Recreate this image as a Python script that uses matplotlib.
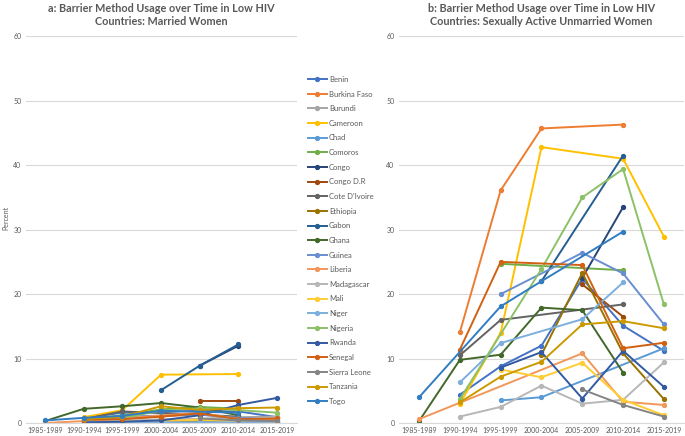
import numpy as np
import matplotlib.pyplot as plt

nan = np.nan

periods = ['1985-1989', '1990-1994', '1995-1999', '2000-2004', '2005-2009', '2010-2014', '2015-2019']

countries = ['Benin', 'Burkina Faso', 'Burundi', 'Cameroon', 'Chad', 'Comoros', 'Congo',
             'Congo D.R', "Cote D'Ivoire", 'Ethiopia', 'Gabon', 'Ghana', 'Guinea', 'Liberia',
             'Madagascar', 'Mali', 'Niger', 'Nigeria', 'Rwanda', 'Senegal', 'Sierra Leone',
             'Tanzania', 'Togo']

colors = ['#4472C4', '#ED7D31', '#A5A5A5', '#FFC000', '#5B9BD5', '#70AD47', '#264478',
          '#9E480E', '#636363', '#997300', '#255E91', '#43682B', '#698ED0', '#F1975A',
          '#B7B7B7', '#FFCD33', '#7CAFDD', '#8CC168', '#335AA1', '#D26012', '#848484',
          '#CC9A00', '#327DC2']

# married women (panel a)
married = {
    'Benin':         [nan, 0.8, 1.6, 1.7, 1.9, 1.8, 0.9],
    'Burkina Faso':  [nan, 0.4, 0.6, 1.0, 1.4, 0.7, nan],
    'Burundi':       [nan, 0.2, 0.3, 0.4, nan, 0.9, 1.0],
    'Cameroon':      [nan, 0.9, 2.0, 7.5, nan, 7.6, nan],
    'Chad':          [nan, nan, 0.1, 0.2, nan, 0.2, 0.2],
    'Comoros':       [nan, 0.5, 1.2, 2.1, 2.5, 2.2, nan],
    'Congo':         [nan, nan, nan, nan, 8.9, 12.0, nan],
    'Congo D.R':     [nan, nan, nan, nan, 3.4, 3.4, nan],
    "Cote D'Ivoire": [nan, 0.6, 1.8, nan, nan, 1.0, nan],
    'Ethiopia':      [nan, nan, nan, 0.1, 0.4, 0.3, 0.2],
    'Gabon':         [nan, nan, nan, 5.1, 8.9, 12.2, nan],
    'Ghana':         [0.3, 2.2, 2.6, 3.1, 2.4, 1.2, nan],
    'Guinea':        [nan, nan, 1.0, nan, 1.3, 0.8, 0.5],
    'Liberia':       [0.0, 0.3, nan, nan, 1.6, 0.6, 0.6],
    'Madagascar':    [nan, 0.1, 0.3, 0.6, 0.6, 0.5, 0.9],
    'Mali':          [nan, nan, 0.2, 0.3, 0.5, 0.2, 0.0],
    'Niger':         [nan, 0.1, 0.1, nan, 0.1, 0.1, 0.2],
    'Nigeria':       [nan, 0.4, 0.8, 1.9, 2.3, 2.0, 1.6],
    'Rwanda':        [nan, 0.1, 0.2, 0.4, 1.2, 2.8, 3.9],
    'Senegal':       [nan, 0.5, 0.6, 1.0, 1.5, 0.6, 0.7],
    'Sierra Leone':  [nan, nan, nan, nan, 0.7, 0.4, 0.3],
    'Tanzania':      [nan, 0.6, 1.0, 2.6, 2.0, 2.3, 2.4],
    'Togo':          [0.4, 0.8, 1.1, 1.9, nan, 1.6, nan],
}

# sexually active unmarried women (panel b)
unmarried = {
    'Benin':         [nan, 4.4, 8.8, 12.0, 22.4, 15.1, 11.2],
    'Burkina Faso':  [nan, 14.1, 36.1, 45.7, nan, 46.3, nan],
    'Burundi':       [nan, nan, nan, nan, nan, nan, nan],
    'Cameroon':      [nan, 3.0, 14.0, 42.8, nan, 41.0, 28.9],
    'Chad':          [nan, nan, 3.5, 4.0, nan, nan, 11.6],
    'Comoros':       [nan, nan, 24.7, nan, nan, 23.7, nan],
    'Congo':         [nan, nan, nan, nan, 22.5, 33.5, nan],
    'Congo D.R':     [nan, nan, nan, nan, 21.5, 16.5, nan],
    "Cote D'Ivoire": [nan, 10.5, 16.0, nan, nan, 18.4, nan],
    'Ethiopia':      [nan, nan, nan, 10.6, 23.3, 10.8, 3.7],
    'Gabon':         [nan, nan, nan, 22.0, nan, 41.5, nan],
    'Ghana':         [0.3, 9.8, 10.6, 17.9, 17.5, 7.8, nan],
    'Guinea':        [nan, nan, 20.0, nan, 26.4, 23.2, 15.3],
    'Liberia':       [0.6, nan, nan, nan, 10.8, 3.3, 2.8],
    'Madagascar':    [nan, 1.0, 2.5, 5.8, 3.0, 3.6, 9.4],
    'Mali':          [nan, nan, 8.3, 7.1, 9.35, 3.6, 1.2],
    'Niger':         [nan, 6.3, 12.4, nan, 16.1, 21.8, nan],
    'Nigeria':       [nan, 3.7, nan, 23.9, 35.0, 39.4, 18.4],
    'Rwanda':        [nan, nan, 8.6, 11.0, 3.8, 11.2, 5.6],
    'Senegal':       [nan, 11.4, 25.0, nan, 24.5, 11.6, 12.45],
    'Sierra Leone':  [nan, nan, nan, nan, 5.2, 2.8, 1.0],
    'Tanzania':      [nan, 3.2, 7.2, 9.5, 15.3, 15.8, 14.7],
    'Togo':          [4.0, nan, 18.1, 22.0, nan, 29.7, nan],
}

title_a = 'a: Barrier Method Usage over Time in Low HIV\nCountries: Married Women'
title_b = 'b: Barrier Method Usage over Time in Low HIV\nCountries: Sexually Active Unmarried Women'

plt.rcParams['font.family'] = ['Lato', 'DejaVu Sans']
txt = '#595959'
grid = '#D9D9D9'

fig = plt.figure(figsize=(6.85, 4.36), dpi=100)
ax1 = fig.add_axes([0.0374, 0.0298, 0.3955, 0.887])
ax2 = fig.add_axes([0.582, 0.0298, 0.417, 0.887])

x = np.arange(len(periods))
handles = []
for ax, data, title in [(ax1, married, title_a), (ax2, unmarried, title_b)]:
    for name, col in zip(countries, colors):
        y = np.array(data[name], dtype=float)
        ok = ~np.isnan(y)
        h, = ax.plot(x[ok], y[ok], color=col, lw=1.4, marker='o', ms=2.8, label=name)
        if ax is ax1:
            handles.append(h)
    ax.set_xlim(-0.5, 6.5)
    ax.set_ylim(0, 60)
    ax.set_yticks(range(0, 61, 10))
    ax.set_xticks(x)
    ax.set_xticklabels(periods)
    ax.yaxis.grid(True, color=grid, lw=0.8)
    ax.set_axisbelow(True)
    for s in ['top', 'right', 'left']:
        ax.spines[s].set_visible(False)
    ax.spines['bottom'].set_color(grid)
    ax.tick_params(length=0, labelsize=5, labelcolor=txt, pad=3)
    ax.set_title(title, fontsize=7.8, fontweight='bold', color=txt, pad=8)

fig.text(0.008, 0.5, 'Percent', rotation=90, fontsize=5, color=txt, va='center', ha='center')

fig.legend(handles=handles, loc='upper left', bbox_to_anchor=(0.449, 0.826), frameon=False,
           fontsize=5.5, labelspacing=1.0, handlelength=2.6, handletextpad=0.2,
           borderaxespad=0, borderpad=0, labelcolor=txt)

fig.savefig('out.png', dpi=100)
